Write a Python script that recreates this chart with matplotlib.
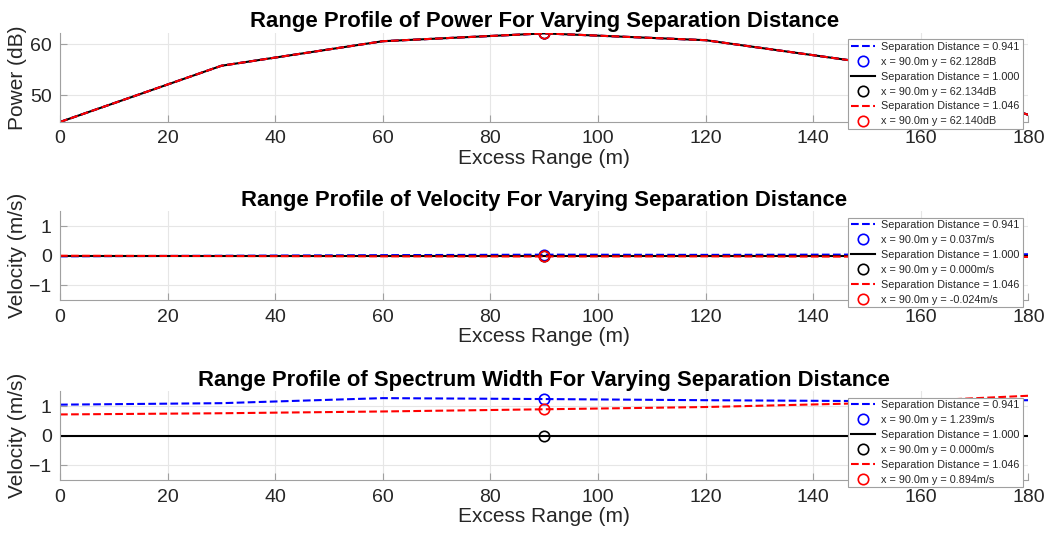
import matplotlib.pyplot as plt

plt.rcParams['font.family'] = ['Liberation Sans', 'DejaVu Sans']

# excess range samples (m)
rng = [0, 30, 60, 90, 120, 150, 180]
sep_labels = ["0.941", "1.000", "1.046"]

power_a = [44.8, 55.8, 60.6, 62.128, 60.8, 56.4, 46.2]
power_b = [44.8, 55.8, 60.6, 62.134, 60.8, 56.4, 46.2]
power_c = [44.8, 55.8, 60.6, 62.140, 60.8, 56.4, 46.2]

vel_a = [-0.02, 0.0, 0.02, 0.037, 0.03, 0.04, 0.05]
vel_b = [0.0, 0.0, 0.0, 0.0, 0.0, 0.0, 0.0]
vel_c = [0.0, -0.01, -0.02, -0.024, -0.02, -0.03, -0.04]

width_a = [1.05, 1.1, 1.27, 1.239, 1.2, 1.17, 1.2]
width_b = [0.0, 0.0, 0.0, 0.0, 0.0, 0.0, 0.0]
width_c = [0.72, 0.76, 0.82, 0.894, 0.97, 1.1, 1.35]

panels = [
    ("Power", "Power (dB)", "dB", (power_a, power_b, power_c), (44.8, 62.2), [50, 60]),
    ("Velocity", "Velocity (m/s)", "m/s", (vel_a, vel_b, vel_c), (-1.5, 1.5), [-1, 0, 1]),
    ("Spectrum Width", "Velocity (m/s)", "m/s", (width_a, width_b, width_c), (-1.5, 1.5), [-1, 0, 1]),
]

colors = ["blue", "black", "red"]
styles = ["--", "-", "--"]

fig = plt.figure(figsize=(10.44, 5.39), dpi=100)
bottoms = [0.7737, 0.443, 0.109]

for (name, ylab, unit, series, ylim, yticks), bot in zip(panels, bottoms):
    ax = fig.add_axes([0.0575, bot, 0.9275, 0.165])
    handles = []
    labels = []
    for ys, c, ls, sep in zip(series, colors, styles, sep_labels):
        ln, = ax.plot(rng, ys, color=c, linestyle=ls, lw=1.5)
        i = rng.index(90)
        mk, = ax.plot(rng[i], ys[i], 'o', mfc='none', mec=c, ms=7.5, mew=1.2)
        handles += [ln, mk]
        labels += ["Separation Distance = " + sep,
                   "x = %.1fm y = %.3f%s" % (rng[i], ys[i], unit)]
    ax.set_xlim(0, 180)
    ax.set_ylim(*ylim)
    ax.set_yticks(yticks)
    ax.set_xticks(range(0, 181, 20))
    ax.grid(True, color='#e6e6e6', lw=0.8)
    ax.set_axisbelow(True)
    for s in ["top", "right"]:
        ax.spines[s].set_visible(False)
    for s in ["left", "bottom"]:
        ax.spines[s].set_color('#a0a0a0')
    ax.tick_params(direction='in', length=5, colors='#262626', labelsize=14,
                   pad=6)
    ax.tick_params(color='#a0a0a0')
    ax.set_xlabel("Excess Range (m)", fontsize=15, color='#262626', labelpad=1)
    ax.set_ylabel(ylab, fontsize=15, color='#262626', labelpad=2)
    ax.set_title("Range Profile of %s For Varying Separation Distance" % name,
                 fontsize=15.9, fontweight='bold', pad=4)
    leg = ax.legend(handles, labels, loc='upper right', fontsize=7.8,
                    bbox_to_anchor=(0.994, 0.93), frameon=True, fancybox=False,
                    edgecolor='#a0a0a0', framealpha=1, handlelength=2.2,
                    labelspacing=0.45, borderpad=0.25, handletextpad=0.6,
                    borderaxespad=0.0)
    leg.get_frame().set_linewidth(0.8)
    for t in leg.get_texts():
        t.set_color('#262626')

fig.savefig("out.png", dpi=100)
